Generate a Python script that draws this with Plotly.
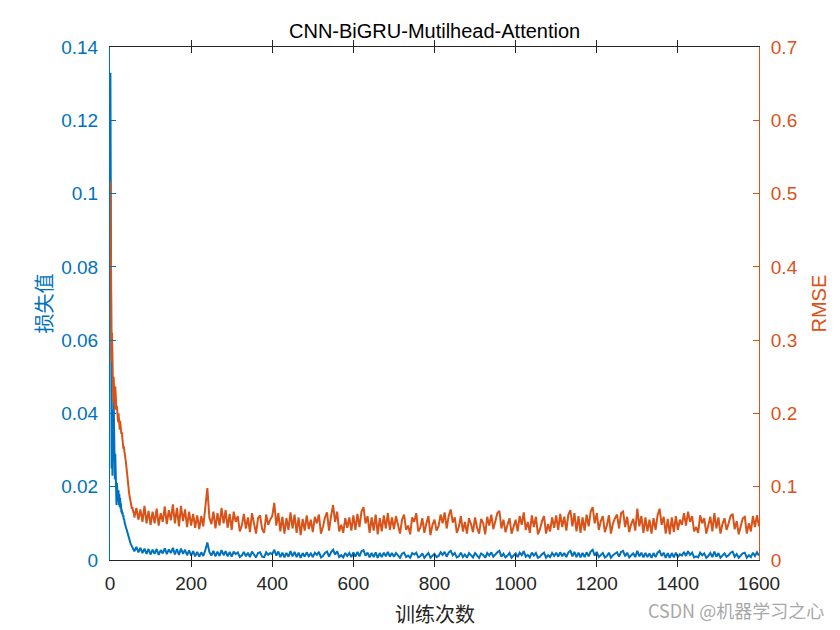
import plotly.graph_objects as go

# iteration index: every step for the first 59, then every 5th
iters = list(range(1, 60)) + list(range(60, 1601, 5))

# training loss (left axis)
loss = [
    0.133, 0.08, 0.043, 0.025, 0.041, 0.023, 0.039, 0.027, 0.044, 0.025,
    0.034, 0.022, 0.029, 0.018, 0.027, 0.015, 0.021, 0.017, 0.02, 0.016,
    0.019, 0.015, 0.018, 0.0145, 0.017, 0.014, 0.0155, 0.013, 0.0138, 0.0125,
    0.013, 0.0118, 0.0122, 0.011, 0.0112, 0.0102, 0.0098, 0.0092, 0.0088, 0.0083,
    0.0079, 0.0074, 0.007, 0.0066, 0.0062, 0.0058, 0.0055, 0.0052, 0.0049, 0.0046,
    0.0044, 0.0042, 0.004, 0.0038, 0.0036, 0.0035, 0.0033, 0.0032, 0.003,
    0.0024, 0.0036, 0.0021, 0.0033, 0.0019, 0.0031, 0.0017, 0.003,
    0.0015, 0.0028, 0.0017, 0.003, 0.0014, 0.0027, 0.0018, 0.0032, 0.0016, 0.0029,
    0.0019, 0.0033, 0.0015, 0.003, 0.0014, 0.0031, 0.0017, 0.0028, 0.0013, 0.0026,
    0.0012, 0.0024, 0.001, 0.0022, 0.0009, 0.0021, 0.0011, 0.0027, 0.0048, 0.0022,
    0.0012, 0.0025, 0.001, 0.0023, 0.0011, 0.0027, 0.0013, 0.0024, 0.001, 0.0022,
    0.0009, 0.0023, 0.0016, 0.0021, 0.0008, 0.0012, 0.0022, 0.001, 0.002, 0.0008,
    0.0023, 0.0015, 0.0007, 0.0019, 0.0021, 0.0009, 0.0008, 0.0021, 0.0014, 0.0019,
    0.0016, 0.0028, 0.0012, 0.0023, 0.0008, 0.002, 0.0007, 0.0019, 0.0009, 0.0024,
    0.001, 0.0022, 0.0008, 0.002, 0.0006, 0.0019, 0.0009, 0.0021, 0.001, 0.0018,
    0.0008, 0.002, 0.0014, 0.0022, 0.0007, 0.0011, 0.0019, 0.0023, 0.0009, 0.0021,
    0.0028, 0.0015, 0.0024, 0.0008, 0.0013, 0.0007, 0.0019, 0.0011, 0.0019, 0.0008,
    0.0021, 0.0009, 0.0022, 0.001, 0.0024, 0.0027, 0.0012, 0.002, 0.0007, 0.0019,
    0.0008, 0.0021, 0.0006, 0.0019, 0.0008, 0.002, 0.001, 0.0022, 0.0009, 0.0019,
    0.0009, 0.0019, 0.0013, 0.0006, 0.0017, 0.002, 0.0008, 0.0012, 0.0006, 0.0019,
    0.0015, 0.002, 0.0007, 0.001, 0.0018, 0.0006, 0.0013, 0.0019, 0.0006, 0.0012,
    0.0017, 0.0008, 0.0011, 0.0021, 0.0014, 0.0022, 0.0009, 0.002, 0.0025, 0.0013,
    0.0019, 0.0007, 0.001, 0.002, 0.0008, 0.0015, 0.0006, 0.0019, 0.0012, 0.0007,
    0.0019, 0.0011, 0.0006, 0.0018, 0.0014, 0.0006, 0.0019, 0.0012, 0.0021, 0.0009,
    0.0016, 0.0021, 0.0025, 0.0009, 0.0017, 0.0007, 0.0012, 0.0019, 0.0006, 0.0011,
    0.0018, 0.0008, 0.002, 0.0013, 0.0024, 0.0009, 0.0014, 0.0007, 0.002, 0.0012,
    0.0019, 0.0006, 0.0009, 0.0016, 0.002, 0.0006, 0.0013, 0.0008, 0.0019, 0.0011,
    0.002, 0.0009, 0.0021, 0.001, 0.0019, 0.0008, 0.0021, 0.0025, 0.001, 0.0022,
    0.0008, 0.002, 0.0007, 0.0019, 0.0008, 0.0021, 0.001, 0.0023, 0.0028, 0.0012,
    0.0022, 0.0008, 0.0014, 0.0019, 0.0007, 0.0011, 0.002, 0.0006, 0.0013, 0.0018,
    0.0021, 0.0009, 0.0022, 0.0025, 0.001, 0.002, 0.0007, 0.0013, 0.0018, 0.0008,
    0.0025, 0.001, 0.002, 0.0007, 0.0019, 0.0008, 0.0018, 0.0006, 0.0019, 0.0008,
    0.002, 0.0025, 0.0011, 0.002, 0.0006, 0.0019, 0.0006, 0.0019, 0.0007, 0.002,
    0.0008, 0.0016, 0.0012, 0.0022, 0.0011, 0.0024, 0.0014, 0.002, 0.0007, 0.001,
    0.0007, 0.002, 0.0013, 0.0018, 0.0006, 0.0011, 0.0019, 0.0008, 0.0023, 0.0009,
    0.0019, 0.0006, 0.0012, 0.0018, 0.0009, 0.0013, 0.002, 0.0023, 0.0009, 0.0016,
    0.0006, 0.0011, 0.0018, 0.002, 0.0006, 0.0013, 0.0008, 0.002, 0.0011, 0.0021,
    0.0012,
]

# training RMSE (right axis)
rmse = [
    0.516, 0.40, 0.338, 0.27, 0.31, 0.24, 0.265, 0.215, 0.25, 0.22,
    0.235, 0.205, 0.237, 0.215, 0.228, 0.205, 0.21, 0.195, 0.205, 0.188,
    0.2, 0.182, 0.192, 0.178, 0.19, 0.18, 0.182, 0.172, 0.175, 0.165,
    0.168, 0.158, 0.152, 0.155, 0.147, 0.148, 0.14, 0.138, 0.135, 0.128,
    0.124, 0.117, 0.112, 0.106, 0.101, 0.096, 0.092, 0.088, 0.085, 0.081,
    0.078, 0.074, 0.076, 0.07, 0.072, 0.067, 0.069, 0.064, 0.066,
    0.058, 0.071, 0.055, 0.069, 0.052, 0.074, 0.05, 0.067,
    0.048, 0.066, 0.05, 0.07, 0.047, 0.064, 0.052, 0.073, 0.049, 0.068,
    0.054, 0.076, 0.05, 0.071, 0.046, 0.074, 0.053, 0.069, 0.045, 0.066,
    0.047, 0.063, 0.044, 0.061, 0.042, 0.06, 0.046, 0.072, 0.098, 0.058,
    0.049, 0.066, 0.043, 0.064, 0.047, 0.071, 0.05, 0.068, 0.044, 0.063,
    0.041, 0.066, 0.052, 0.06, 0.039, 0.047, 0.063, 0.043, 0.058, 0.038,
    0.064, 0.05, 0.036, 0.057, 0.061, 0.042, 0.037, 0.062, 0.048, 0.055,
    0.06, 0.078, 0.047, 0.064, 0.039, 0.059, 0.036, 0.057, 0.041, 0.065,
    0.043, 0.062, 0.037, 0.058, 0.034, 0.056, 0.04, 0.061, 0.042, 0.055,
    0.038, 0.059, 0.05, 0.062, 0.036, 0.045, 0.058, 0.065, 0.04, 0.06,
    0.075, 0.052, 0.066, 0.039, 0.048, 0.037, 0.057, 0.044, 0.058, 0.04,
    0.061, 0.041, 0.063, 0.045, 0.066, 0.072, 0.05, 0.06, 0.037, 0.058,
    0.04, 0.062, 0.035, 0.057, 0.039, 0.061, 0.043, 0.064, 0.041, 0.058,
    0.042, 0.06, 0.049, 0.036, 0.055, 0.062, 0.041, 0.047, 0.035, 0.058,
    0.052, 0.064, 0.039, 0.044, 0.057, 0.037, 0.05, 0.06, 0.034, 0.048,
    0.055, 0.04, 0.046, 0.062, 0.05, 0.065, 0.043, 0.06, 0.069, 0.051,
    0.058, 0.037, 0.045, 0.06, 0.039, 0.052, 0.036, 0.057, 0.049, 0.038,
    0.058, 0.044, 0.036, 0.056, 0.05, 0.035, 0.059, 0.047, 0.062, 0.042,
    0.053, 0.064, 0.067, 0.043, 0.055, 0.038, 0.048, 0.057, 0.036, 0.045,
    0.055, 0.039, 0.06, 0.048, 0.065, 0.041, 0.052, 0.037, 0.061, 0.045,
    0.059, 0.035, 0.042, 0.053, 0.06, 0.036, 0.049, 0.039, 0.058, 0.044,
    0.061, 0.041, 0.063, 0.045, 0.059, 0.04, 0.062, 0.068, 0.046, 0.064,
    0.039, 0.06, 0.037, 0.058, 0.04, 0.062, 0.046, 0.066, 0.072, 0.05,
    0.064, 0.041, 0.053, 0.06, 0.038, 0.047, 0.061, 0.036, 0.05, 0.057,
    0.062, 0.043, 0.064, 0.066, 0.045, 0.059, 0.038, 0.049, 0.056, 0.04,
    0.07, 0.046, 0.06, 0.037, 0.058, 0.039, 0.055, 0.036, 0.057, 0.041,
    0.061, 0.07, 0.048, 0.059, 0.036, 0.056, 0.035, 0.058, 0.038, 0.06,
    0.041, 0.055, 0.048, 0.064, 0.047, 0.066, 0.052, 0.06, 0.039, 0.045,
    0.037, 0.061, 0.05, 0.057, 0.036, 0.047, 0.059, 0.039, 0.064, 0.043,
    0.058, 0.036, 0.049, 0.057, 0.041, 0.05, 0.06, 0.063, 0.042, 0.053,
    0.035, 0.046, 0.057, 0.059, 0.036, 0.05, 0.039, 0.06, 0.045, 0.061,
    0.046,
]

x_ticks = [0, 200, 400, 600, 800, 1000, 1200, 1400, 1600]
loss_ticks = [0, 0.02, 0.04, 0.06, 0.08, 0.1, 0.12, 0.14]
rmse_ticks = [0, 0.1, 0.2, 0.3, 0.4, 0.5, 0.6, 0.7]

BLUE = "#0072BD"
ORANGE = "#D95319"
DARK = "#262626"
FONT = "Liberation Sans, Arial, sans-serif"
CJK = "Noto Sans CJK SC, sans-serif"

fig = go.Figure()

fig.add_trace(
    go.Scatter(
        x=iters, y=rmse, yaxis="y2", mode="lines",
        line=dict(color=ORANGE, width=2), name="RMSE",
    )
)
fig.add_trace(
    go.Scatter(
        x=iters, y=loss, mode="lines",
        line=dict(color=BLUE, width=2), name="loss",
    )
)

# the page body adds an 8px offset, so margins are shifted to compensate
fig.update_layout(
    width=840, height=630,
    margin=dict(l=102, r=89, t=39, b=78),
    paper_bgcolor="white", plot_bgcolor="white",
    showlegend=False,
    font=dict(family=FONT, size=19, color=DARK),
    xaxis=dict(
        range=[0, 1600], tickvals=x_ticks,
        showline=True, linecolor=DARK, linewidth=1, mirror="allticks",
        ticks="inside", ticklen=6, tickcolor=DARK,
        showgrid=False, zeroline=False,
        tickfont=dict(size=19, color=DARK), ticklabelstandoff=6,
    ),
    yaxis=dict(
        range=[0, 0.14], tickvals=loss_ticks,
        showline=True, linecolor=BLUE, linewidth=1,
        ticks="inside", ticklen=6, tickcolor=BLUE,
        showgrid=False, zeroline=False,
        tickfont=dict(size=19, color=BLUE), ticklabelstandoff=7,
    ),
    yaxis2=dict(
        range=[0, 0.7], tickvals=rmse_ticks,
        overlaying="y", side="right",
        showline=True, linecolor=ORANGE, linewidth=1,
        ticks="inside", ticklen=6, tickcolor=ORANGE,
        showgrid=False, zeroline=False,
        tickfont=dict(size=19, color=ORANGE), ticklabelstandoff=7,
    ),
)

# title and axis labels placed as annotations
fig.add_annotation(
    text="CNN-BiGRU-Mutilhead-Attention", xref="paper", yref="paper",
    x=0.5, y=1, yshift=16, yanchor="middle", showarrow=False,
    font=dict(family=FONT, size=20, color="black"),
)
fig.add_annotation(
    text="训练次数", xref="paper", yref="paper",
    x=0.5, y=0, yshift=-53, yanchor="middle", showarrow=False,
    font=dict(family=CJK, size=20, color=DARK),
)
fig.add_annotation(
    text="损失值", xref="paper", yref="paper",
    x=0, xshift=-67, y=0.5, xanchor="center", yanchor="middle",
    textangle=-90, showarrow=False,
    font=dict(family=CJK, size=20, color=BLUE),
)
fig.add_annotation(
    text="RMSE", xref="paper", yref="paper",
    x=1, xshift=59, y=0.5, xanchor="center", yanchor="middle",
    textangle=-90, showarrow=False,
    font=dict(family=FONT, size=20, color=ORANGE),
)
fig.add_annotation(
    text="CSDN @机器学习之心", xref="paper", yref="paper",
    x=1, xshift=67, y=0, yshift=-50, xanchor="right", yanchor="middle",
    showarrow=False,
    font=dict(family=CJK, size=18, color="#a8a8a8"),
)

fig.write_html("out.html")
